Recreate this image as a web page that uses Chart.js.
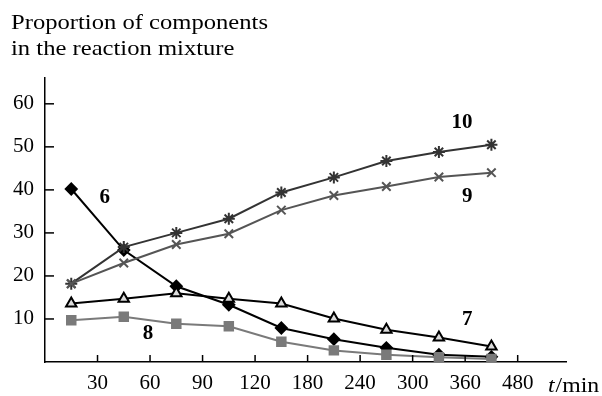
<!DOCTYPE html>
<html lang="en">
<head>
  <meta charset="UTF-8" />
  <title>Proportion of components</title>
  <script src="https://cdn.jsdelivr.net/npm/chart.js"></script>
  <style>
    body { margin: 0; padding: 0; background: #fff; }
  </style>
</head>
<body>
  <canvas id="chart" width="602" height="396"></canvas>
<script>
  // tick labels on the time axis (evenly spaced, samples sit between them)
  const timeLabels = ['30', '60', '90', '120', '180', '240', '300', '360', '480'];
  const yTicks = [10, 20, 30, 40, 50, 60];

  // proportions, one value per sample
  const s6  = [40.2, 26.0, 17.6, 13.3, 7.9, 5.3, 3.3, 1.7, 1.2];
  const s7  = [13.6, 14.7, 16.0, 14.7, 13.6, 10.1, 7.5, 5.7, 3.6];
  const s8  = [9.7, 10.5, 8.9, 8.3, 4.7, 2.7, 1.7, 1.1, 0.7];
  const s9  = [18.2, 23.0, 27.3, 29.8, 35.3, 38.7, 40.8, 43.0, 44.0];
  const s10 = [18.2, 26.7, 30.0, 33.3, 39.4, 42.9, 46.7, 48.8, 50.5];

  // curve numbers: [text, x, y] in data units
  const curveLabels = [
    ['6', 1.14, 38.2],
    ['10', 7.94, 55.7],
    ['9', 8.04, 38.4],
    ['7', 8.04, 9.8],
    ['8', 1.96, 6.6]
  ];

  const serif = '"Liberation Serif", "DejaVu Serif", serif';
  const pts = arr => arr.map((v, i) => ({ x: i + 0.5, y: v }));

  function series(data, color, style, radius, fill) {
    return {
      data: pts(data),
      borderColor: color,
      borderWidth: 2,
      pointStyle: style,
      pointRadius: radius,
      pointBackgroundColor: fill || color,
      pointBorderColor: color,
      pointBorderWidth: 2,
      tension: 0
    };
  }

  // text stretched a little to match the wider face of the original
  function wideText(ctx, text, x, y, sx) {
    ctx.save();
    ctx.translate(x, y);
    ctx.scale(sx, 1);
    ctx.fillText(text, 0, 0);
    ctx.restore();
  }

  const extras = {
    id: 'extras',
    afterDraw(chart) {
      const ctx = chart.ctx;
      const xs = chart.scales.x, ys = chart.scales.y;
      ctx.save();
      // inward tick marks on both axes
      ctx.strokeStyle = '#000';
      ctx.lineWidth = 1.5;
      timeLabels.forEach((t, i) => {
        const px = xs.getPixelForValue(i + 1);
        ctx.beginPath();
        ctx.moveTo(px, ys.bottom);
        ctx.lineTo(px, ys.bottom - 7);
        ctx.stroke();
      });
      yTicks.forEach(v => {
        const py = ys.getPixelForValue(v);
        ctx.beginPath();
        ctx.moveTo(xs.left, py);
        ctx.lineTo(xs.left + 9, py);
        ctx.stroke();
      });
      // axis title at the top
      ctx.fillStyle = '#000';
      ctx.font = '22px ' + serif;
      ctx.textAlign = 'left';
      ctx.textBaseline = 'alphabetic';
      const line1 = 'Proportion of components';
      const sx = 257 / ctx.measureText(line1).width;
      wideText(ctx, line1, 11, 29, sx);
      wideText(ctx, 'in the reaction mixture', 11, 55, sx);
      // t/min
      const base = ys.bottom + 30;
      ctx.font = 'italic 22px ' + serif;
      wideText(ctx, 't', 548, base, 1.08);
      const w = ctx.measureText('t').width * 1.08;
      ctx.font = '22px ' + serif;
      wideText(ctx, '/min', 548 + w + 1, base, 1.08);
      // curve numbers
      ctx.font = 'bold 21px ' + serif;
      ctx.textAlign = 'center';
      ctx.textBaseline = 'middle';
      curveLabels.forEach(([t, x, y]) => {
        ctx.fillText(t, xs.getPixelForValue(x), ys.getPixelForValue(y));
      });
      ctx.restore();
    }
  };

  new Chart(document.getElementById('chart'), {
    type: 'line',
    data: {
      datasets: [
        series(s8, '#7a7a7a', 'rect', 6),
        series(s9, '#555', 'crossRot', 6),
        series(s10, '#333', 'star', 6),
        series(s7, '#000', 'triangle', 6, '#ddd'),
        series(s6, '#000', 'rectRot', 5.5)
      ]
    },
    options: {
      responsive: false,
      animation: false,
      devicePixelRatio: 1,
      layout: { padding: { top: 78, right: 36, left: 0, bottom: 0 } },
      plugins: { legend: { display: false }, tooltip: { enabled: false } },
      scales: {
        x: {
          type: 'linear',
          min: 0,
          max: 9.92,
          afterBuildTicks: s => { s.ticks = timeLabels.map((t, i) => ({ value: i + 1 })); },
          afterFit: s => { s.height = 34; },
          grid: { display: false, drawTicks: false },
          border: { color: '#000', width: 1.5 },
          ticks: {
            color: '#000',
            padding: 9,
            maxRotation: 0,
            autoSkip: false,
            font: { family: serif, size: 21 },
            callback: (v) => timeLabels[Math.round(v) - 1]
          }
        },
        y: {
          min: 0,
          max: 66,
          afterBuildTicks: s => { s.ticks = yTicks.map(v => ({ value: v })); },
          afterFit: s => { s.width = 45; },
          grid: { display: false, drawTicks: false },
          border: { color: '#000', width: 1.5 },
          ticks: {
            color: '#000',
            padding: 11,
            font: { family: serif, size: 21 }
          }
        }
      }
    },
    plugins: [extras]
  });
</script>
</body>
</html>
